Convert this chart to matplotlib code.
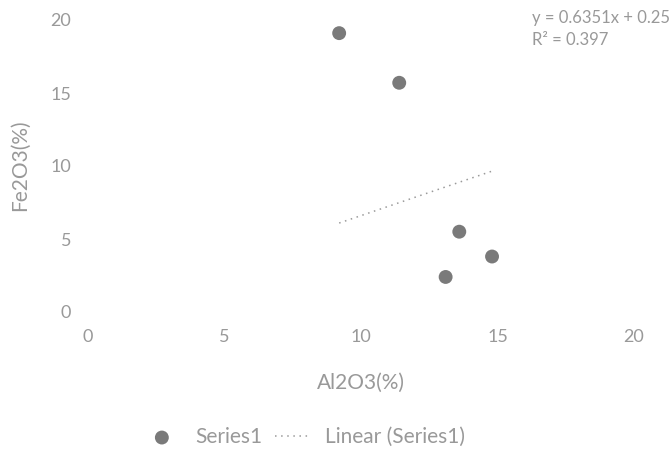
import numpy as np
import matplotlib
matplotlib.use("Agg")
import matplotlib.pyplot as plt

plt.rcParams['font.family'] = ['Lato', 'DejaVu Sans']

# Oxide contents (%)
al2o3 = [9.2, 11.4, 13.1, 13.6, 14.8]
fe2o3 = [19.1, 15.7, 2.4, 5.5, 3.8]

# Linear trend parameters
slope = 0.6351
intercept = 0.25
r_squared = 0.397

x_ticks = [0, 5, 10, 15, 20]
y_ticks = [0, 5, 10, 15, 20]

text_color = '#999999'
mark_color = '#7a7a7a'

fig = plt.figure(figsize=(6.72, 4.67), dpi=100)
ax = fig.add_axes([88 / 672, 1 - 312 / 467, 546 / 672, 292 / 467])

ax.scatter(al2o3, fe2o3, s=100, color=mark_color, edgecolors='none',
           label='Series1', zorder=3)

xt = np.array([min(al2o3), max(al2o3)])
ax.plot(xt, slope * xt + intercept, linestyle=(0, (1, 3)), color='#9a9a9a',
        linewidth=1.1, label='Linear (Series1)')

ax.set_xlim(0, 20)
ax.set_ylim(0, 20)
ax.set_xticks(x_ticks)
ax.set_yticks(y_ticks)
for s in ax.spines.values():
    s.set_visible(False)
ax.tick_params(length=0, labelsize=13, colors=text_color, pad=12)

ax.set_xlabel('Al2O3(%)', fontsize=15, color=text_color, labelpad=20)
fig.text(20 / 672, 1 - 165 / 467, 'Fe2O3(%)', rotation=90, fontsize=15,
         color=text_color, ha='center', va='center')

fig.text(532 / 672, 1 - 18 / 467, f'y = {slope:.4f}x + {intercept:.2f}',
         fontsize=12, color=text_color, ha='left', va='center')
fig.text(532 / 672, 1 - 40 / 467, f'R² = {r_squared:.3f}',
         fontsize=12, color=text_color, ha='left', va='center')

leg = fig.legend(loc='center', bbox_to_anchor=(305 / 672, 1 - 437 / 467),
                 ncol=2, frameon=False, fontsize=15, handlelength=1.6,
                 columnspacing=0.6, handletextpad=0.8)
for t in leg.get_texts():
    t.set_color(text_color)

fig.savefig('out.png', dpi=100, facecolor='white')
